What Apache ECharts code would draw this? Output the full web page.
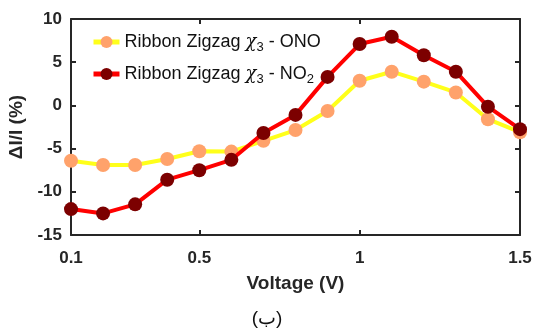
<!DOCTYPE html>
<html><head><meta charset="utf-8">
<script src="https://cdn.jsdelivr.net/npm/echarts@6/dist/echarts.min.js"></script>
<style>html,body{margin:0;padding:0;background:#fff}#c{width:534px;height:329px}</style>
</head><body><div id="c"></div>
<script>
var voltage = [0.1,0.2,0.3,0.4,0.5,0.6,0.7,0.8,0.9,1.0,1.1,1.2,1.3,1.4,1.5];
var onoValues = [-6.4,-6.9,-6.9,-6.2,-5.3,-5.35,-4.1,-2.85,-0.65,2.85,3.9,2.75,1.5,-1.6,-3.1];
var no2Values = [-12.0,-12.5,-11.45,-8.6,-7.5,-6.3,-3.2,-1.1,3.3,7.1,7.95,5.8,3.9,-0.15,-2.75];
var xTicks = [0.1,0.5,1,1.5];
var yTicks = [-15,-10,-5,0,5,10];
var seriesNames = ['ONO','NO2'];

function pairs(xs, ys){ return xs.map(function(x,i){return [x, ys[i]];}); }
var axisColor = '#262626';
var font = 'Liberation Sans, Arial, sans-serif';
var chart = echarts.init(document.getElementById('c'), null, {renderer:'canvas'});
function xAx(show, pos){
  return {type:'value', position:pos, min:0.1, max:1.5,
    axisLine:{show:true, onZero:false, lineStyle:{color:axisColor, width:2}},
    axisTick:{show:true, inside:true, length:5, lineStyle:{color:axisColor, width:2}, customValues:xTicks},
    axisLabel:{show:show, customValues:xTicks, color:'#262626', fontWeight:'bold', fontSize:17, fontFamily:font, margin:15,
      formatter:function(v){return String(v);}},
    splitLine:{show:false},
    name: show ? 'Voltage (V)' : '', nameLocation:'middle', nameGap:39,
    nameTextStyle:{color:'#262626', fontWeight:'bold', fontSize:19, fontFamily:font}
  };
}
function yAx(show, pos){
  return {type:'value', position:pos, min:-15, max:10, interval:5,
    axisLine:{show:true, onZero:false, lineStyle:{color:axisColor, width:2}},
    axisTick:{show:true, inside:true, length:5, lineStyle:{color:axisColor, width:2}},
    axisLabel:{show:show, color:'#262626', fontWeight:'bold', fontSize:17, fontFamily:font, margin:9},
    splitLine:{show:false},
    name: show ? 'ΔI/I (%)' : '', nameLocation:'middle', nameGap:42, nameRotate:90,
    nameTextStyle:{color:'#262626', fontWeight:'bold', fontSize:19, fontFamily:font}
  };
}
var rich = {
  chi:{fontStyle:'italic', fontSize:18, fontFamily:'DejaVu Serif, serif', color:'#111'},
  sub:{fontSize:13, fontFamily:font, color:'#111', padding:[11,0,0,0]},
  n:{fontSize:18, fontFamily:font, color:'#111'}
};
chart.setOption({
  animation:false,
  grid:{left:71, right:14, top:19, bottom:94, containLabel:false, outerBoundsMode:'none'},
  xAxis:[xAx(true,'bottom'), xAx(false,'top')],
  yAxis:[yAx(true,'left'), yAx(false,'right')],
  legend:{
    left:86, top:28, orient:'vertical', itemGap:11, itemWidth:26, itemHeight:15,
    data:['ONO','NO2'],
    lineStyle:{width:5},
    formatter:function(n){
      return n==='ONO' ? '{n|Ribbon Zigzag }{chi|χ}{sub|3}{n| - ONO}' : '{n|Ribbon Zigzag }{chi|χ}{sub|3}{n| - NO}{sub|2}';
    },
    textStyle:{rich:rich, fontSize:18, color:'#111'}
  },
  graphic:[{type:'text', left:'center', top:309, style:{text:'(ب)', fontSize:19, fontFamily:font, fill:'#111'}}],
  series:[
    {name:'ONO', type:'line', data:pairs(voltage, onoValues), symbol:'circle', symbolSize:14,
      lineStyle:{color:'#ffff1a', width:4}, itemStyle:{color:'#ffa26b'}, z:2},
    {name:'NO2', type:'line', data:pairs(voltage, no2Values), symbol:'circle', symbolSize:14,
      lineStyle:{color:'#ff0000', width:4}, itemStyle:{color:'#7c0000'}, z:3}
  ]
});
</script></body></html>
